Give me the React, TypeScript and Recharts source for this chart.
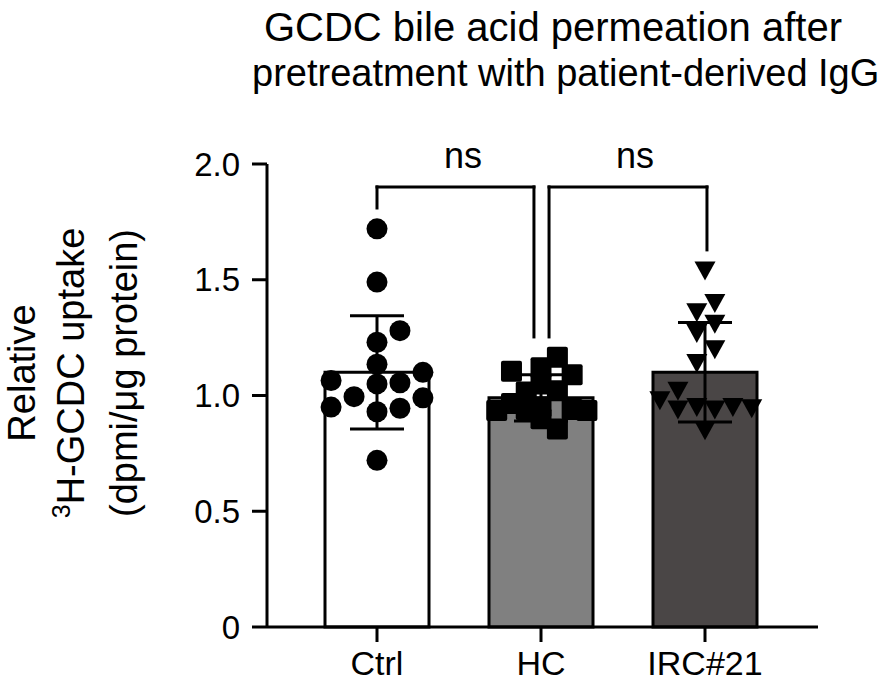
import React from 'react';
import {
  ComposedChart,
  Bar,
  Cell,
  Scatter,
  ErrorBar,
  XAxis,
  YAxis,
  ReferenceLine,
  ReferenceDot,
} from 'recharts';

const FONT = '"Liberation Sans", Arial, Helvetica, sans-serif';

// groups and bar summaries (mean +/- SD)
const groups = ['Ctrl', 'HC', 'IRC#21'];
const groupMeans = [1.1, 0.99, 1.1];
const groupSD = [0.245, 0.1, 0.215];
const barFills = ['#ffffff', '#808080', '#4a4646'];

// individual replicates: horizontal jitter (in category units) and value
const ctrlJitter = [0, 0, 0.14, 0, 0, 0.28, -0.28, 0, 0.14, -0.14, 0.28, -0.28, 0, 0.14, 0];
const ctrlValues = [1.72, 1.49, 1.28, 1.23, 1.135, 1.1, 1.065, 1.05, 1.055, 0.995, 0.99, 0.95, 0.93, 0.945, 0.72];

const hcJitter = [-0.18, 0.1, 0, 0.19, -0.09, 0, 0.1, -0.27, -0.18, -0.09, 0, 0.19, 0.28, 0.1, 0];
const hcValues = [1.105, 1.165, 1.12, 1.09, 1.015, 1.05, 1.02, 0.935, 0.965, 0.94, 0.95, 0.94, 0.935, 0.855, 0.9];

const ircJitter = [0, 0.06, -0.05, 0.06, -0.05, 0.06, -0.05, -0.165, -0.275, -0.165, -0.05, 0.06, 0.17, 0.285, 0];
const ircValues = [1.54, 1.4, 1.36, 1.31, 1.27, 1.2, 1.14, 1.02, 0.98, 0.94, 0.95, 0.94, 0.95, 0.945, 0.85];

const yTicks = [0, 0.5, 1, 1.5, 2];

// significance brackets: left/right x, where each drop ends, label position
const brackets = [
  { x1: 0, x2: 0.957, y1: 1.81, y2: 1.253, label: 'ns', labelX: 0.524 },
  { x1: 1.049, x2: 2.012, y1: 1.253, y2: 1.629, label: 'ns', labelX: 1.573 },
];
const bracketTop = 1.901;

const barData = groups.map((name, i) => ({ name, mean: groupMeans[i] }));
const meanPoints = groups.map((_, i) => ({ x: i, y: groupMeans[i], sd: groupSD[i] }));
const toPoints = (idx: number, jitter: number[], values: number[]) =>
  values.map((v, i) => ({ x: idx + jitter[i], y: v }));

const ctrlPoints = toPoints(0, ctrlJitter, ctrlValues);
const hcPoints = toPoints(1, hcJitter, hcValues);
const ircPoints = toPoints(2, ircJitter, ircValues);

const CircleDot = (p: any) => <circle cx={p.cx} cy={p.cy} r={10.5} fill="#000" />;
const SquareDot = (p: any) => (
  <rect x={p.cx - 10.5} y={p.cy - 10.5} width={21} height={21} rx={2} fill="#000" />
);
const TriangleDot = (p: any) => (
  <path
    d={`M${p.cx - 10.5},${p.cy - 9} L${p.cx + 10.5},${p.cy - 9} L${p.cx},${p.cy + 10} Z`}
    fill="#000"
  />
);
const NoDot = () => <g />;

function YLabel() {
  const cy = 373;
  return (
    <g fontFamily={FONT} fontSize={38} fill="#000" textAnchor="middle">
      <text x={35} y={cy} transform={`rotate(-90 35 ${cy})`}>Relative</text>
      <text x={84} y={cy} transform={`rotate(-90 84 ${cy})`}>
        <tspan fontSize={25} dy={-14}>3</tspan>
        <tspan dy={14}>H-GCDC uptake</tspan>
      </text>
      <text x={137} y={cy} transform={`rotate(-90 137 ${cy})`}>(dpmi/μg protein)</text>
    </g>
  );
}

const axisStroke = { stroke: '#000', strokeWidth: 3 };

export default function App() {
  return (
    <div style={{ position: 'absolute', left: 0, top: 0, width: 886, height: 684, background: '#fff' }}>
      <ComposedChart
        width={886}
        height={684}
        data={barData}
        margin={{ top: 164, right: 68, bottom: 0, left: 167 }}
      >
        <text x={553} y={41} textAnchor="middle" fontFamily={FONT} fontSize={40} fill="#000">
          GCDC bile acid permeation after
        </text>
        <text x={252} y={86} textAnchor="start" fontFamily={FONT} fontSize={38} fill="#000">
          pretreatment with patient-derived IgG
        </text>
        <XAxis
          xAxisId="cat"
          dataKey="name"
          type="category"
          height={57}
          padding={{ left: 28, right: 31 }}
          interval={0}
          tickSize={15}
          tickMargin={9}
          axisLine={axisStroke}
          tickLine={axisStroke}
          tick={{ fill: '#000', fontSize: 34, fontFamily: FONT }}
        />
        <XAxis
          xAxisId="num"
          dataKey="x"
          type="number"
          domain={[-0.6707, 2.689]}
          allowDataOverflow
          hide
        />
        <YAxis
          dataKey="y"
          width={100}
          domain={[0, 2]}
          ticks={yTicks}
          interval={0}
          tickSize={15}
          tickMargin={12}
          axisLine={axisStroke}
          tickLine={axisStroke}
          tick={{ fill: '#000', fontSize: 33, fontFamily: FONT }}
          tickFormatter={(v: number) => (v === 0 ? '0' : v.toFixed(1))}
          label={<YLabel />}
        />
        <Bar xAxisId="cat" dataKey="mean" barSize={104} stroke="#000" strokeWidth={3} isAnimationActive={false}>
          {barData.map((d, i) => (
            <Cell key={d.name} fill={barFills[i]} />
          ))}
        </Bar>
        <Scatter xAxisId="num" data={ctrlPoints} shape={CircleDot} isAnimationActive={false} />
        <Scatter xAxisId="num" data={hcPoints} shape={SquareDot} isAnimationActive={false} />
        <Scatter xAxisId="num" data={ircPoints} shape={TriangleDot} isAnimationActive={false} />
        <Scatter xAxisId="num" data={meanPoints} shape={NoDot} isAnimationActive={false}>
          <ErrorBar dataKey="sd" direction="y" width={27} stroke="#000" strokeWidth={3} isAnimationActive={false} />
        </Scatter>
        {brackets.map((b, i) => (
          <ReferenceLine
            key={`l${i}`}
            xAxisId="num"
            segment={[{ x: b.x1, y: b.y1 }, { x: b.x1, y: bracketTop }]}
            stroke="#000"
            strokeWidth={3}
            strokeLinecap="square"
          />
        ))}
        {brackets.map((b, i) => (
          <ReferenceLine
            key={`t${i}`}
            xAxisId="num"
            segment={[{ x: b.x1, y: bracketTop }, { x: b.x2, y: bracketTop }]}
            stroke="#000"
            strokeWidth={3}
            strokeLinecap="square"
          />
        ))}
        {brackets.map((b, i) => (
          <ReferenceLine
            key={`r${i}`}
            xAxisId="num"
            segment={[{ x: b.x2, y: bracketTop }, { x: b.x2, y: b.y2 }]}
            stroke="#000"
            strokeWidth={3}
            strokeLinecap="square"
          />
        ))}
        {brackets.map((b, i) => (
          <ReferenceDot
            key={`n${i}`}
            xAxisId="num"
            x={b.labelX}
            y={bracketTop}
            r={0}
            fill="none"
            stroke="none"
            label={{ value: b.label, position: 'top', offset: 19, fill: '#000', fontSize: 36, fontFamily: FONT }}
          />
        ))}
      </ComposedChart>
    </div>
  );
}
